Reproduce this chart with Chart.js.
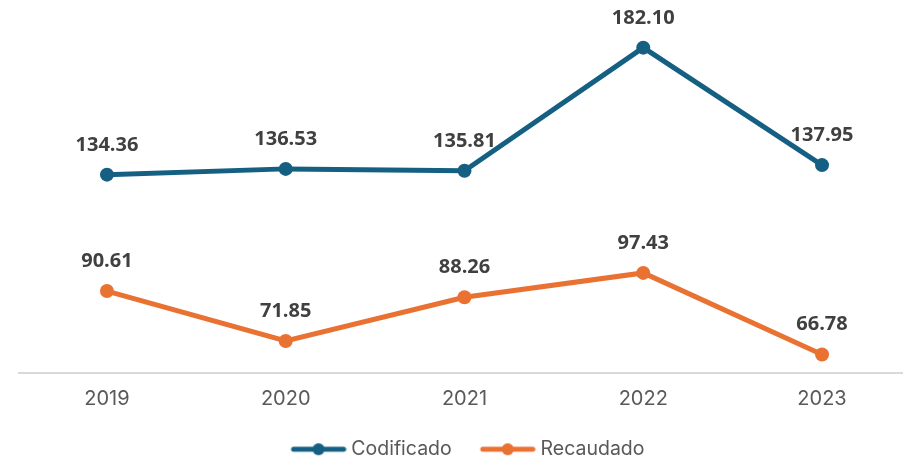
<!DOCTYPE html>
<html>
<head>
<meta charset="utf-8">
<script src="https://cdn.jsdelivr.net/npm/chart.js@4"></script>
<style>
  html, body { margin: 0; padding: 0; background: #ffffff; overflow: hidden; }
  #wrap { width: 903px; height: 459px; position: relative; }
</style>
</head>
<body>
<div id="wrap"><canvas id="lineChart"></canvas></div>
<script>
// data
const years = ['2019', '2020', '2021', '2022', '2023'];
const codificado = [134.36, 136.53, 135.81, 182.10, 137.95];
const recaudado = [90.61, 71.85, 88.26, 97.43, 66.78];

const blue = '#156082';
const orange = '#E97132';

// legend marker: short thick line with a dot, blank room on the left
function legendMarker(color) {
    const c = document.createElement('canvas');
    c.width = 74;
    c.height = 14;
    const g = c.getContext('2d');
    g.strokeStyle = color;
    g.lineWidth = 5;
    g.lineCap = 'round';
    g.beginPath();
    g.moveTo(21, 7);
    g.lineTo(71, 7);
    g.stroke();
    g.fillStyle = color;
    g.beginPath();
    g.arc(46, 7, 6, 0, Math.PI * 2);
    g.fill();
    return c;
}

const markers = [legendMarker(blue), legendMarker(orange)];

// value labels above each point
const valueLabels = {
    id: 'valueLabels',
    afterDatasetsDraw(chart) {
        const ctx = chart.ctx;
        ctx.save();
        ctx.font = 'bold 20px "Open Sans"';
        ctx.fillStyle = '#404040';
        ctx.textAlign = 'center';
        ctx.textBaseline = 'alphabetic';
        chart.data.datasets.forEach((ds, i) => {
            const meta = chart.getDatasetMeta(i);
            meta.data.forEach((pt, j) => {
                ctx.fillText(ds.data[j].y.toFixed(2), pt.x, pt.y - 24);
            });
        });
        ctx.restore();
    }
};

const toPoints = arr => arr.map((v, i) => ({ x: i, y: v }));

new Chart(document.getElementById('lineChart'), {
    type: 'line',
    data: {
        datasets: [
            {
                label: 'Codificado',
                data: toPoints(codificado),
                borderColor: blue,
                backgroundColor: blue,
                borderWidth: 5,
                pointRadius: 7,
                pointHoverRadius: 7,
                pointBorderWidth: 0,
                tension: 0,
                clip: false
            },
            {
                label: 'Recaudado',
                data: toPoints(recaudado),
                borderColor: orange,
                backgroundColor: orange,
                borderWidth: 5,
                pointRadius: 7,
                pointHoverRadius: 7,
                pointBorderWidth: 0,
                tension: 0,
                clip: false
            }
        ]
    },
    options: {
        responsive: true,
        maintainAspectRatio: false,
        animation: false,
        layout: { autoPadding: false, padding: { left: 19, right: 0, top: 0, bottom: -10 } },
        scales: {
            x: {
                type: 'linear',
                min: -0.492,
                max: 4.453,
                afterBuildTicks(scale) {
                    scale.ticks = years.map((y, i) => ({ value: i }));
                },
                grid: { display: false, drawTicks: false },
                border: { display: true, color: '#D9D9D9', width: 2 },
                ticks: {
                    padding: 14,
                    color: '#595959',
                    font: { family: 'Inter', size: 20 },
                    callback: v => years[v]
                }
            },
            y: {
                display: false,
                min: 60,
                max: 200
            }
        },
        plugins: {
            tooltip: { enabled: false },
            legend: {
                position: 'bottom',
                labels: {
                    usePointStyle: true,
                    pointStyleWidth: 64,
                    padding: 15,
                    color: '#595959',
                    font: { family: 'Inter', size: 19.5 },
                    generateLabels(chart) {
                        const items = Chart.defaults.plugins.legend.labels.generateLabels(chart);
                        items.forEach((it, i) => { it.pointStyle = markers[i]; });
                        return items;
                    }
                }
            }
        }
    },
    plugins: [valueLabels]
});
</script>
</body>
</html>
